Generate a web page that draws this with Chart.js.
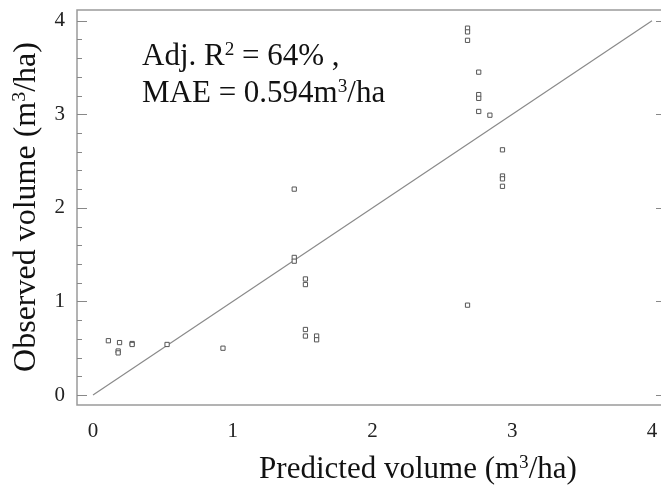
<!DOCTYPE html>
<html>
<head>
<meta charset="utf-8">
<title>Observed vs predicted volume</title>
<script src="https://cdn.jsdelivr.net/npm/chart.js@4/dist/chart.umd.min.js"></script>
<style>
  html, body { margin: 0; padding: 0; background: #fff; overflow: hidden; }
  canvas { display: block; }
</style>
</head>
<body>
<canvas id="chart" width="661" height="498"></canvas>
<script>
// Data (m3/ha)
const predicted = [2.68, 2.68, 2.68, 2.76, 2.76, 2.76, 2.76, 2.84, 2.93, 2.93, 2.93, 2.93,
                   1.44, 0.11, 0.19, 0.18, 0.18, 0.28, 0.28, 0.53, 0.93,
                   1.44, 1.44, 1.52, 1.52, 1.52, 1.52, 1.60, 1.60, 2.68];
const observed  = [3.92, 3.88, 3.79, 3.45, 3.21, 3.17, 3.03, 2.99, 2.62, 2.34, 2.31, 2.23,
                   2.20, 0.58, 0.56, 0.47, 0.45, 0.55, 0.54, 0.54, 0.50,
                   1.47, 1.43, 1.24, 1.18, 0.70, 0.63, 0.63, 0.59, 0.96];
const lineX = [0, 4];          // 1:1 line
const lineY = [0, 4];
const tickValues = [0, 1, 2, 3, 4];
const minorStep = 0.2;

const SERIF = '"Liberation Serif", "DejaVu Serif", serif';
const SUP = 0.62;

// draw a string made of normal and superscript parts
function richWidth(ctx, parts, size) {
    let w = 0;
    parts.forEach(p => {
        ctx.font = (p.sup ? size * SUP : size) + 'px ' + SERIF;
        w += ctx.measureText(p.t).width;
    });
    return w;
}
function drawRich(ctx, parts, x, y, size) {
    ctx.textAlign = 'left';
    ctx.textBaseline = 'alphabetic';
    parts.forEach(p => {
        const s = p.sup ? size * SUP : size;
        ctx.font = s + 'px ' + SERIF;
        ctx.fillText(p.t, x, p.sup ? y - size * 0.32 : y);
        x += ctx.measureText(p.t).width;
    });
}

const decorations = {
    id: 'decorations',
    beforeDatasetsDraw(chart) {
        const { ctx, chartArea: a, scales } = chart;
        ctx.save();
        // frame (right side falls outside the picture)
        ctx.strokeStyle = '#9a9a9a';
        ctx.lineWidth = 1.5;
        ctx.beginPath();
        ctx.moveTo(a.right, a.top);
        ctx.lineTo(a.left, a.top);
        ctx.lineTo(a.left, a.bottom);
        ctx.lineTo(a.right, a.bottom);
        ctx.stroke();
        // inward ticks, left (major + minor) and right (major)
        ctx.strokeStyle = '#888';
        ctx.lineWidth = 1;
        ctx.beginPath();
        for (let v = 0; v <= 4.0001; v += minorStep) {
            const py = Math.round(scales.y.getPixelForValue(v)) + 0.5;
            const major = Math.abs(v - Math.round(v)) < 1e-6;
            ctx.moveTo(a.left, py);
            ctx.lineTo(a.left + (major ? 10 : 5), py);
        }
        tickValues.forEach(v => {
            const py = Math.round(scales.y.getPixelForValue(v)) + 0.5;
            ctx.moveTo(a.right, py);
            ctx.lineTo(a.right - 5, py);
        });
        ctx.stroke();
        ctx.restore();
    },
    afterDraw(chart) {
        const { ctx } = chart;
        ctx.save();
        ctx.fillStyle = '#111';
        // statistics text
        drawRich(ctx, [{ t: 'Adj. R' }, { t: '2', sup: true }, { t: ' = 64% ,' }], 142, 65, 31);
        drawRich(ctx, [{ t: 'MAE = 0.594m' }, { t: '3', sup: true }, { t: '/ha' }], 142, 102, 31);
        // x title
        const xt = [{ t: 'Predicted volume (m' }, { t: '3', sup: true }, { t: '/ha)' }];
        const xw = richWidth(ctx, xt, 31);
        drawRich(ctx, xt, 418 - xw / 2, 478, 31);
        // y title
        const yt = [{ t: 'Observed volume (m' }, { t: '3', sup: true }, { t: '/ha)' }];
        const yw = richWidth(ctx, yt, 32);
        ctx.translate(35, 207);
        ctx.rotate(-Math.PI / 2);
        drawRich(ctx, yt, -yw / 2, 0, 32);
        ctx.restore();
    }
};

new Chart(document.getElementById('chart'), {
    type: 'scatter',
    data: {
        datasets: [{
            data: predicted.map((x, i) => ({ x: x, y: observed[i] })),
            pointStyle: 'rect',
            pointRadius: 3,
            pointBorderWidth: 1,
            pointBorderColor: '#555',
            pointBackgroundColor: '#fff',
            showLine: false
        }, {
            type: 'line',
            data: lineX.map((x, i) => ({ x: x, y: lineY[i] })),
            borderColor: '#8a8a8a',
            borderWidth: 1.2,
            pointRadius: 0,
            fill: false
        }]
    },
    options: {
        responsive: false,
        animation: false,
        layout: { autoPadding: false, padding: { top: 10, right: 0, left: 0, bottom: 0 } },
        plugins: { legend: { display: false }, tooltip: { enabled: false } },
        scales: {
            x: {
                type: 'linear',
                min: -0.1145,
                max: 4.0644,
                grid: { display: false, drawTicks: false },
                border: { display: false },
                ticks: {
                    stepSize: 1,
                    includeBounds: false,
                    padding: 14,
                    color: '#222',
                    font: { family: SERIF, size: 21 },
                    maxRotation: 0
                },
                afterFit(scale) {
                    scale.height = 93;
                    scale.paddingLeft = 0;
                    scale.paddingRight = 0;
                }
            },
            y: {
                type: 'linear',
                min: -0.1069,
                max: 4.114,
                grid: { display: false, drawTicks: false },
                border: { display: false },
                ticks: {
                    stepSize: 1,
                    includeBounds: false,
                    padding: 12,
                    color: '#222',
                    font: { family: SERIF, size: 21 }
                },
                afterFit(scale) {
                    scale.width = 77;
                    scale.paddingTop = 0;
                    scale.paddingBottom = 0;
                }
            }
        }
    },
    plugins: [decorations]
});
</script>
</body>
</html>
